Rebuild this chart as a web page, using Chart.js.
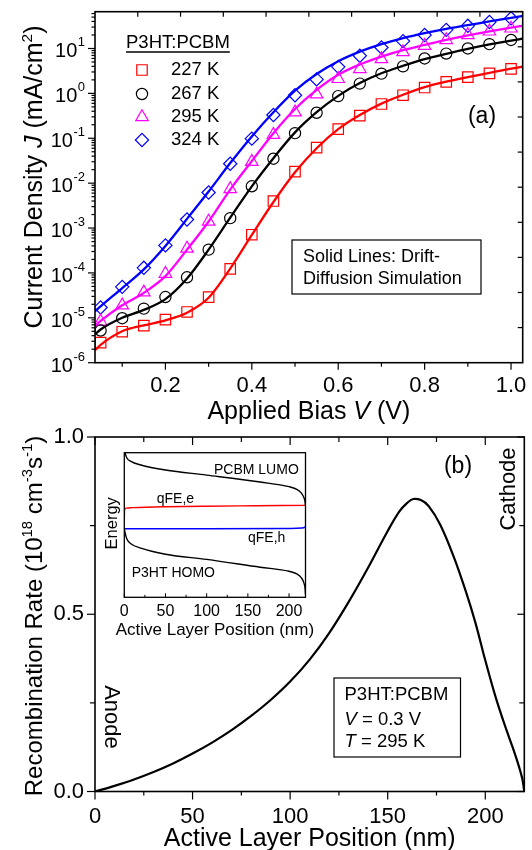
<!DOCTYPE html>
<html>
<head>
<meta charset="utf-8">
<script src="https://cdn.jsdelivr.net/npm/chart.js@4.4.1/dist/chart.umd.min.js"></script>
<style>
  html, body { margin: 0; padding: 0; background: #fff; }
  #page { position: relative; width: 532px; height: 850px; overflow: hidden; }
  canvas { position: absolute; }
</style>
</head>
<body>
<div id="page">
  <canvas id="jv" width="532" height="425" style="left:0;top:0;width:532px;height:425px"></canvas>
  <canvas id="rec" width="532" height="425" style="left:0;top:425px;width:532px;height:425px"></canvas>
  <canvas id="band" width="230" height="200" style="left:95px;top:440px;width:230px;height:200px"></canvas>
</div>
<script>
const FONT = '"Liberation Sans", Arial, sans-serif';
Chart.defaults.font.family = FONT;

//- panel (a): J-V curves -
const biasPts = [0.05, 0.10, 0.15, 0.20, 0.25, 0.30, 0.35, 0.40, 0.45, 0.50,
                 0.55, 0.60, 0.65, 0.70, 0.75, 0.80, 0.85, 0.90, 0.95, 1.00];
const j227 = [2.8e-6, 4.9e-6, 6.7e-6, 9.1e-6, 1.35e-5, 2.9e-5, 1.23e-4, 7.1e-4, 4.0e-3, 1.8e-2,
              0.062, 0.16, 0.32, 0.58, 0.91, 1.35, 1.8, 2.3, 2.8, 3.5];
const j267 = [5.2e-6, 9.8e-6, 1.6e-5, 2.9e-5, 8.0e-5, 3.3e-4, 1.66e-3, 8.5e-3, 0.035, 0.13,
              0.37, 0.87, 1.65, 2.75, 4.0, 6.0, 7.7, 10, 12.5, 15.5];
const j295 = [8.3e-6, 1.9e-5, 3.7e-5, 9.6e-5, 3.5e-4, 1.4e-3, 7.4e-3, 0.030, 0.12, 0.38,
              0.95, 2.1, 3.5, 5.8, 8.3, 11.5, 15.5, 20, 24, 28];
const j324 = [1.7e-5, 4.9e-5, 1.3e-4, 4.1e-4, 1.55e-3, 6.2e-3, 0.027, 0.098, 0.33, 0.91,
              2.05, 3.9, 6.9, 10.5, 14.6, 20, 26, 32, 39, 47];

// drift-diffusion simulation lines
const biasSim = [0.037, 0.05, 0.10, 0.15, 0.20, 0.25, 0.30, 0.35, 0.40, 0.45, 0.50,
                 0.55, 0.60, 0.65, 0.70, 0.75, 0.80, 0.85, 0.90, 0.95, 1.00, 1.027];
const sim227 = [1.9e-6, 2.5e-6, 5.0e-6, 6.8e-6, 8.8e-6, 1.3e-5, 2.8e-5, 1.25e-4, 7.0e-4, 3.8e-3, 1.75e-2,
                0.06, 0.16, 0.33, 0.59, 0.93, 1.38, 1.82, 2.3, 2.85, 3.55, 3.95];
const sim267 = [4.3e-6, 5.5e-6, 1.0e-5, 1.5e-5, 2.6e-5, 7.5e-5, 3.3e-4, 1.7e-3, 8.5e-3, 0.036, 0.135,
                0.38, 0.88, 1.7, 2.8, 4.1, 5.8, 7.6, 9.8, 12.3, 15, 16.5];
const sim295 = [6.5e-6, 8.5e-6, 1.9e-5, 3.6e-5, 8.5e-5, 3.3e-4, 1.4e-3, 7.2e-3, 0.031, 0.13, 0.45,
                1.2, 2.6, 4.4, 6.6, 9.2, 12, 15.5, 19.5, 24, 29, 32];
const sim324 = [1.4e-5, 1.8e-5, 4.6e-5, 1.2e-4, 4.0e-4, 1.6e-3, 6.5e-3, 0.028, 0.11, 0.38, 1.15,
                2.7, 5.2, 8.5, 12.5, 17, 22, 27.5, 33, 40, 48, 53];

const tempLabels = ['227 K', '267 K', '295 K', '324 K'];
const tempColors = ['#ff0000', '#000000', '#ff00ff', '#0000ff'];
const tempShapes = ['rect', 'circle', 'triangle', 'rectRot'];
const tempRadius = [7.4, 5.6, 7.2, 6.6];

const biasMajor = [0.2, 0.4, 0.6, 0.8, 1.0];
const biasMinor = [0.1, 0.3, 0.5, 0.7, 0.9];
const jDecades = [-6, -5, -4, -3, -2, -1, 0, 1];

//- panel (b): recombination profile -
const posNm = [0, 10, 20, 30, 40, 50, 60, 70, 80, 90, 100, 110, 120, 130, 140, 150, 156, 160, 163, 167, 171,
               177, 184, 190, 195, 200, 205, 210, 214, 217, 219, 220];
const rate = [0, 0.016, 0.034, 0.055, 0.079, 0.107, 0.138, 0.173, 0.213, 0.258, 0.31, 0.372, 0.447, 0.535, 0.632, 0.735,
              0.79, 0.814, 0.825, 0.822, 0.805, 0.752, 0.66, 0.565, 0.475, 0.37, 0.272, 0.187, 0.125, 0.075, 0.035, 0];
const posMajor = [0, 50, 100, 150, 200];
const posMinor = [25, 75, 125, 175];
const rateMajor = [0, 0.5, 1.0];
const rateMinor = [0.25, 0.75];

//- inset: band diagram -
const lumoPos = [0, 1, 3, 8, 20, 50, 100, 165, 200, 210, 215, 218, 219.5, 220];
const lumoE = [1.05, 1.0, 0.965, 0.94, 0.915, 0.88, 0.845, 0.797, 0.765, 0.745, 0.72, 0.69, 0.66, 0.63];
const homoPos = [0, 1, 3, 8, 20, 50, 100, 165, 200, 210, 215, 218, 219.5, 220];
const homoE = [0.476, 0.445, 0.405, 0.37, 0.34, 0.298, 0.262, 0.208, 0.18, 0.16, 0.135, 0.1, 0.06, 0.02];
const qfePos = [0, 0.3, 2, 10, 50, 100, 160, 220];
const qfeE = [0.53, 0.60, 0.617, 0.62, 0.626, 0.63, 0.633, 0.636];
const qfhPos = [0, 100, 200, 215, 219, 220];
const qfhE = [0.474, 0.474, 0.476, 0.479, 0.484, 0.49];

const pts = (xs, ys) => xs.map((v, i) => ({ x: v, y: ys[i] }));

// text with italic / superscript pieces, y is the baseline
function richText(ctx, parts, x, y, align, size) {
    const pieces = parts.map(([t, s]) => {
        const sz = s === 'sup' ? size * 0.62 : size;
        const font = (s === 'i' ? 'italic ' : '') + sz + 'px ' + FONT;
        ctx.font = font;
        return { t, font, w: ctx.measureText(t).width, dy: s === 'sup' ? -size * 0.4 : 0 };
    });
    const total = pieces.reduce((a, p) => a + p.w, 0);
    let cx = align === 'center' ? x - total / 2 : align === 'right' ? x - total : x;
    ctx.textAlign = 'left';
    ctx.textBaseline = 'alphabetic';
    pieces.forEach(p => { ctx.font = p.font; ctx.fillText(p.t, cx, y + p.dy); cx += p.w; });
    return total;
}
function rotText(ctx, parts, cx, cy, size, angle) {
    ctx.save();
    ctx.translate(cx, cy);
    ctx.rotate(angle);
    richText(ctx, parts, 0, size * 0.358, 'center', size);
    ctx.restore();
}
function seg(ctx, x1, y1, x2, y2) {
    ctx.beginPath(); ctx.moveTo(x1, y1); ctx.lineTo(x2, y2); ctx.stroke();
}
function label(ctx, t, x, y, size, align) {
    ctx.font = size + 'px ' + FONT;
    ctx.textAlign = align || 'center';
    ctx.textBaseline = 'middle';
    ctx.fillText(t, x, y);
}
const hidden = { ticks: { display: false }, grid: { display: false }, border: { display: false } };

//- (a) decorations: frame, ticks, labels, legend -
const decorA = {
    id: 'decorA',
    afterDatasetsDraw(chart) {
        const { ctx, chartArea: a, scales: { x, y } } = chart;
        ctx.save();
        ctx.fillStyle = '#000';
        ctx.strokeStyle = '#000';
        ctx.lineWidth = 1.2;
        biasMajor.forEach(v => seg(ctx, x.getPixelForValue(v), a.bottom, x.getPixelForValue(v), a.bottom + 7));
        biasMinor.forEach(v => seg(ctx, x.getPixelForValue(v), a.bottom, x.getPixelForValue(v), a.bottom + 4));
        jDecades.forEach(d => {
            const py = y.getPixelForValue(Math.pow(10, d));
            seg(ctx, a.left - 7, py, a.left, py);
            for (let k = 2; k <= 9; k++) {
                const v = k * Math.pow(10, d);
                if (v <= y.max) {
                    const my = y.getPixelForValue(v);
                    seg(ctx, a.left - 3.5, my, a.left, my);
                }
            }
        });
        // mirror axes: ten equal divisions
        for (let i = 1; i < 10; i++) {
            const tx = x.getPixelForValue(x.min + i * (x.max - x.min) / 10);
            seg(ctx, tx, a.top, tx, a.top + 5);
            const ty = a.top + i * (a.bottom - a.top) / 10;
            seg(ctx, a.right - 5, ty, a.right, ty);
        }
        ctx.lineWidth = 1.6;
        ctx.strokeRect(a.left, a.top, a.right - a.left, a.bottom - a.top);

        biasMajor.forEach(v => label(ctx, v.toFixed(1), x.getPixelForValue(v), 386, 22));
        jDecades.forEach(d => {
            const py = y.getPixelForValue(Math.pow(10, d));
            ctx.font = '13px ' + FONT;
            const sw = ctx.measureText(String(d)).width;
            ctx.textAlign = 'left'; ctx.textBaseline = 'alphabetic';
            ctx.fillText(String(d), 85 - sw, py - 2);
            ctx.font = '20px ' + FONT;
            ctx.textAlign = 'right';
            ctx.fillText('10', 85 - sw - 0.5, py + 9);
        });
        richText(ctx, [['Applied Bias ', ''], ['V', 'i'], [' (V)', '']], (a.left + a.right) / 2, 419, 'center', 25);
        rotText(ctx, [['Current Density ', ''], ['J', 'i'], [' (mA/cm', ''], ['2', 'sup'], [')', '']],
                33, 177, 25, -Math.PI / 2);

        // legend
        ctx.font = '18.5px ' + FONT;
        ctx.textAlign = 'left'; ctx.textBaseline = 'middle';
        ctx.fillText('P3HT:PCBM', 126, 43);
        const uw = ctx.measureText('P3HT:PCBM').width;
        ctx.lineWidth = 1.5;
        seg(ctx, 126, 52, 126 + uw, 52);
        const rows = [70, 94, 117, 140];
        tempLabels.forEach((t, i) => {
            ctx.strokeStyle = tempColors[i];
            ctx.fillStyle = 'rgba(0,0,0,0)';
            ctx.lineWidth = 1.2;
            Chart.helpers.drawPoint(ctx, { pointStyle: tempShapes[i], radius: tempRadius[i], rotation: 0, borderWidth: 1.2 }, 142, rows[i]);
            ctx.fillStyle = '#000';
            label(ctx, t, 171, rows[i], 18.5, 'left');
        });
        label(ctx, '(a)', 482, 117, 23);

        ctx.strokeStyle = '#000';
        ctx.lineWidth = 1.2;
        ctx.strokeRect(292, 240, 189, 54);
        label(ctx, 'Solid Lines: Drift-', 303, 257, 18, 'left');
        label(ctx, 'Diffusion Simulation', 303, 279, 18, 'left');
        ctx.restore();
    }
};

const jvSets = [j227, j267, j295, j324];
const simSets = [sim227, sim267, sim295, sim324];
const jvDatasets = [];
simSets.forEach((s, i) => jvDatasets.push({
    data: pts(biasSim, s), borderColor: tempColors[i], borderWidth: 2.3,
    pointRadius: 0, cubicInterpolationMode: 'monotone', fill: false
}));
jvSets.forEach((s, i) => jvDatasets.push({
    data: pts(biasPts, s), showLine: false, pointStyle: tempShapes[i], pointRadius: tempRadius[i],
    pointBorderColor: tempColors[i], pointBackgroundColor: 'rgba(0,0,0,0)', pointBorderWidth: 1.2
}));

new Chart(document.getElementById('jv'), {
    type: 'line',
    data: { datasets: jvDatasets },
    options: {
        responsive: false,
        animation: false,
        layout: { padding: { left: 0, top: 11.7, right: 9.3, bottom: 0 } },
        plugins: { legend: { display: false }, tooltip: { enabled: false } },
        scales: {
            x: { type: 'linear', min: 0.037, max: 1.027, ...hidden, afterFit: s => { s.height = 62.3; } },
            y: { type: 'logarithmic', min: 1e-6, max: 66, ...hidden, afterFit: s => { s.width = 95; } }
        }
    },
    plugins: [decorA]
});

//- (b) decorations -
const decorB = {
    id: 'decorB',
    afterDatasetsDraw(chart) {
        const { ctx, chartArea: a, scales: { x, y } } = chart;
        ctx.save();
        ctx.fillStyle = '#000';
        ctx.strokeStyle = '#000';
        ctx.lineWidth = 1.2;
        posMajor.forEach(v => {
            const px = x.getPixelForValue(v);
            seg(ctx, px, a.bottom, px, a.bottom + 8);
            seg(ctx, px, a.top, px, a.top + 8);
        });
        posMinor.forEach(v => {
            const px = x.getPixelForValue(v);
            seg(ctx, px, a.bottom, px, a.bottom + 4);
            seg(ctx, px, a.top, px, a.top + 5);
        });
        rateMajor.forEach(v => {
            const py = y.getPixelForValue(v);
            seg(ctx, a.left - 8, py, a.left, py);
            seg(ctx, a.right - 7, py, a.right, py);
        });
        rateMinor.forEach(v => {
            const py = y.getPixelForValue(v);
            seg(ctx, a.left - 5, py, a.left, py);
            seg(ctx, a.right - 5, py, a.right, py);
        });
        ctx.lineWidth = 1.6;
        ctx.strokeRect(a.left, a.top, a.right - a.left, a.bottom - a.top);

        posMajor.forEach(v => label(ctx, String(v), x.getPixelForValue(v), 392, 22));
        rateMajor.forEach(v => label(ctx, v.toFixed(1), 84, y.getPixelForValue(v), 22, 'right'));
        richText(ctx, [['Active Layer Position (nm)', '']], (a.left + a.right) / 2, 421, 'center', 25);
        rotText(ctx, [['Recombination Rate (10', ''], ['18', 'sup'], [' cm', ''], ['-3', 'sup'],
                      ['s', ''], ['-1', 'sup'], [')', '']], 33, 191, 24, -Math.PI / 2);

        label(ctx, '(b)', 458, 42, 23);
        rotText(ctx, [['Cathode', '']], 507, 64, 22, -Math.PI / 2);
        rotText(ctx, [['Anode', '']], 112.5, 292, 22, Math.PI / 2);

        ctx.lineWidth = 1.2;
        ctx.strokeRect(334, 253, 126.5, 79);
        label(ctx, 'P3HT:PCBM', 344.5, 270, 18.5, 'left');
        richText(ctx, [['V', 'i'], [' = 0.3 V', '']], 344.5, 293.3 + 6.6, 'left', 18.5);
        richText(ctx, [['T', 'i'], [' = 295 K', '']], 344.5, 315 + 6.6, 'left', 18.5);
        ctx.restore();
    }
};

new Chart(document.getElementById('rec'), {
    type: 'line',
    data: {
        datasets: [{
            data: pts(posNm, rate), borderColor: '#000', borderWidth: 2.2,
            pointRadius: 0, tension: 0.35, fill: false
        }]
    },
    options: {
        responsive: false,
        animation: false,
        layout: { padding: { left: 0, top: 12, right: 7.7, bottom: 0 } },
        plugins: { legend: { display: false }, tooltip: { enabled: false } },
        scales: {
            x: { type: 'linear', min: 0, max: 220, ...hidden, afterFit: s => { s.height = 58.5; } },
            y: { type: 'linear', min: 0, max: 1, ...hidden, afterFit: s => { s.width = 95; } }
        }
    },
    plugins: [decorB]
});

//- inset decorations -
const decorInset = {
    id: 'decorInset',
    afterDatasetsDraw(chart) {
        const { ctx, chartArea: a, scales: { x } } = chart;
        ctx.save();
        ctx.fillStyle = '#000';
        ctx.strokeStyle = '#000';
        ctx.lineWidth = 1;
        posMajor.forEach(v => seg(ctx, x.getPixelForValue(v), a.bottom, x.getPixelForValue(v), a.bottom - 4));
        posMinor.forEach(v => seg(ctx, x.getPixelForValue(v), a.bottom, x.getPixelForValue(v), a.bottom - 2.5));
        ctx.lineWidth = 1.3;
        ctx.strokeRect(a.left, a.top, a.right - a.left, a.bottom - a.top);

        posMajor.forEach(v => label(ctx, String(v), x.getPixelForValue(v), 171.7, 16));
        label(ctx, 'Active Layer Position (nm)', (a.left + a.right) / 2, 190, 17);
        rotText(ctx, [['Energy', '']], 16, 83.3, 16.5, -Math.PI / 2);
        label(ctx, 'PCBM LUMO', 119, 30, 14, 'left');
        label(ctx, 'qFE,e', 61.7, 59.3, 14, 'left');
        label(ctx, 'qFE,h', 153, 98.3, 14, 'left');
        label(ctx, 'P3HT HOMO', 36.7, 133.3, 14, 'left');
        ctx.restore();
    }
};

const bandLine = (xs, ys, color) => ({
    data: pts(xs, ys), borderColor: color, borderWidth: 1.4,
    pointRadius: 0, cubicInterpolationMode: 'monotone', fill: false
});

new Chart(document.getElementById('band'), {
    type: 'line',
    data: {
        datasets: [
            bandLine(lumoPos, lumoE, '#000'),
            bandLine(homoPos, homoE, '#000'),
            bandLine(qfePos, qfeE, '#ff0000'),
            bandLine(qfhPos, qfhE, '#0000ff')
        ]
    },
    options: {
        responsive: false,
        animation: false,
        layout: { padding: { left: 0, top: 12.7, right: 19.5, bottom: 0 } },
        plugins: { legend: { display: false }, tooltip: { enabled: false } },
        scales: {
            x: { type: 'linear', min: 0, max: 220, ...hidden, afterFit: s => { s.height = 42.7; } },
            y: { type: 'linear', min: 0, max: 1, ...hidden, afterFit: s => { s.width = 29.3; } }
        }
    },
    plugins: [decorInset]
});
</script>
</body>
</html>
